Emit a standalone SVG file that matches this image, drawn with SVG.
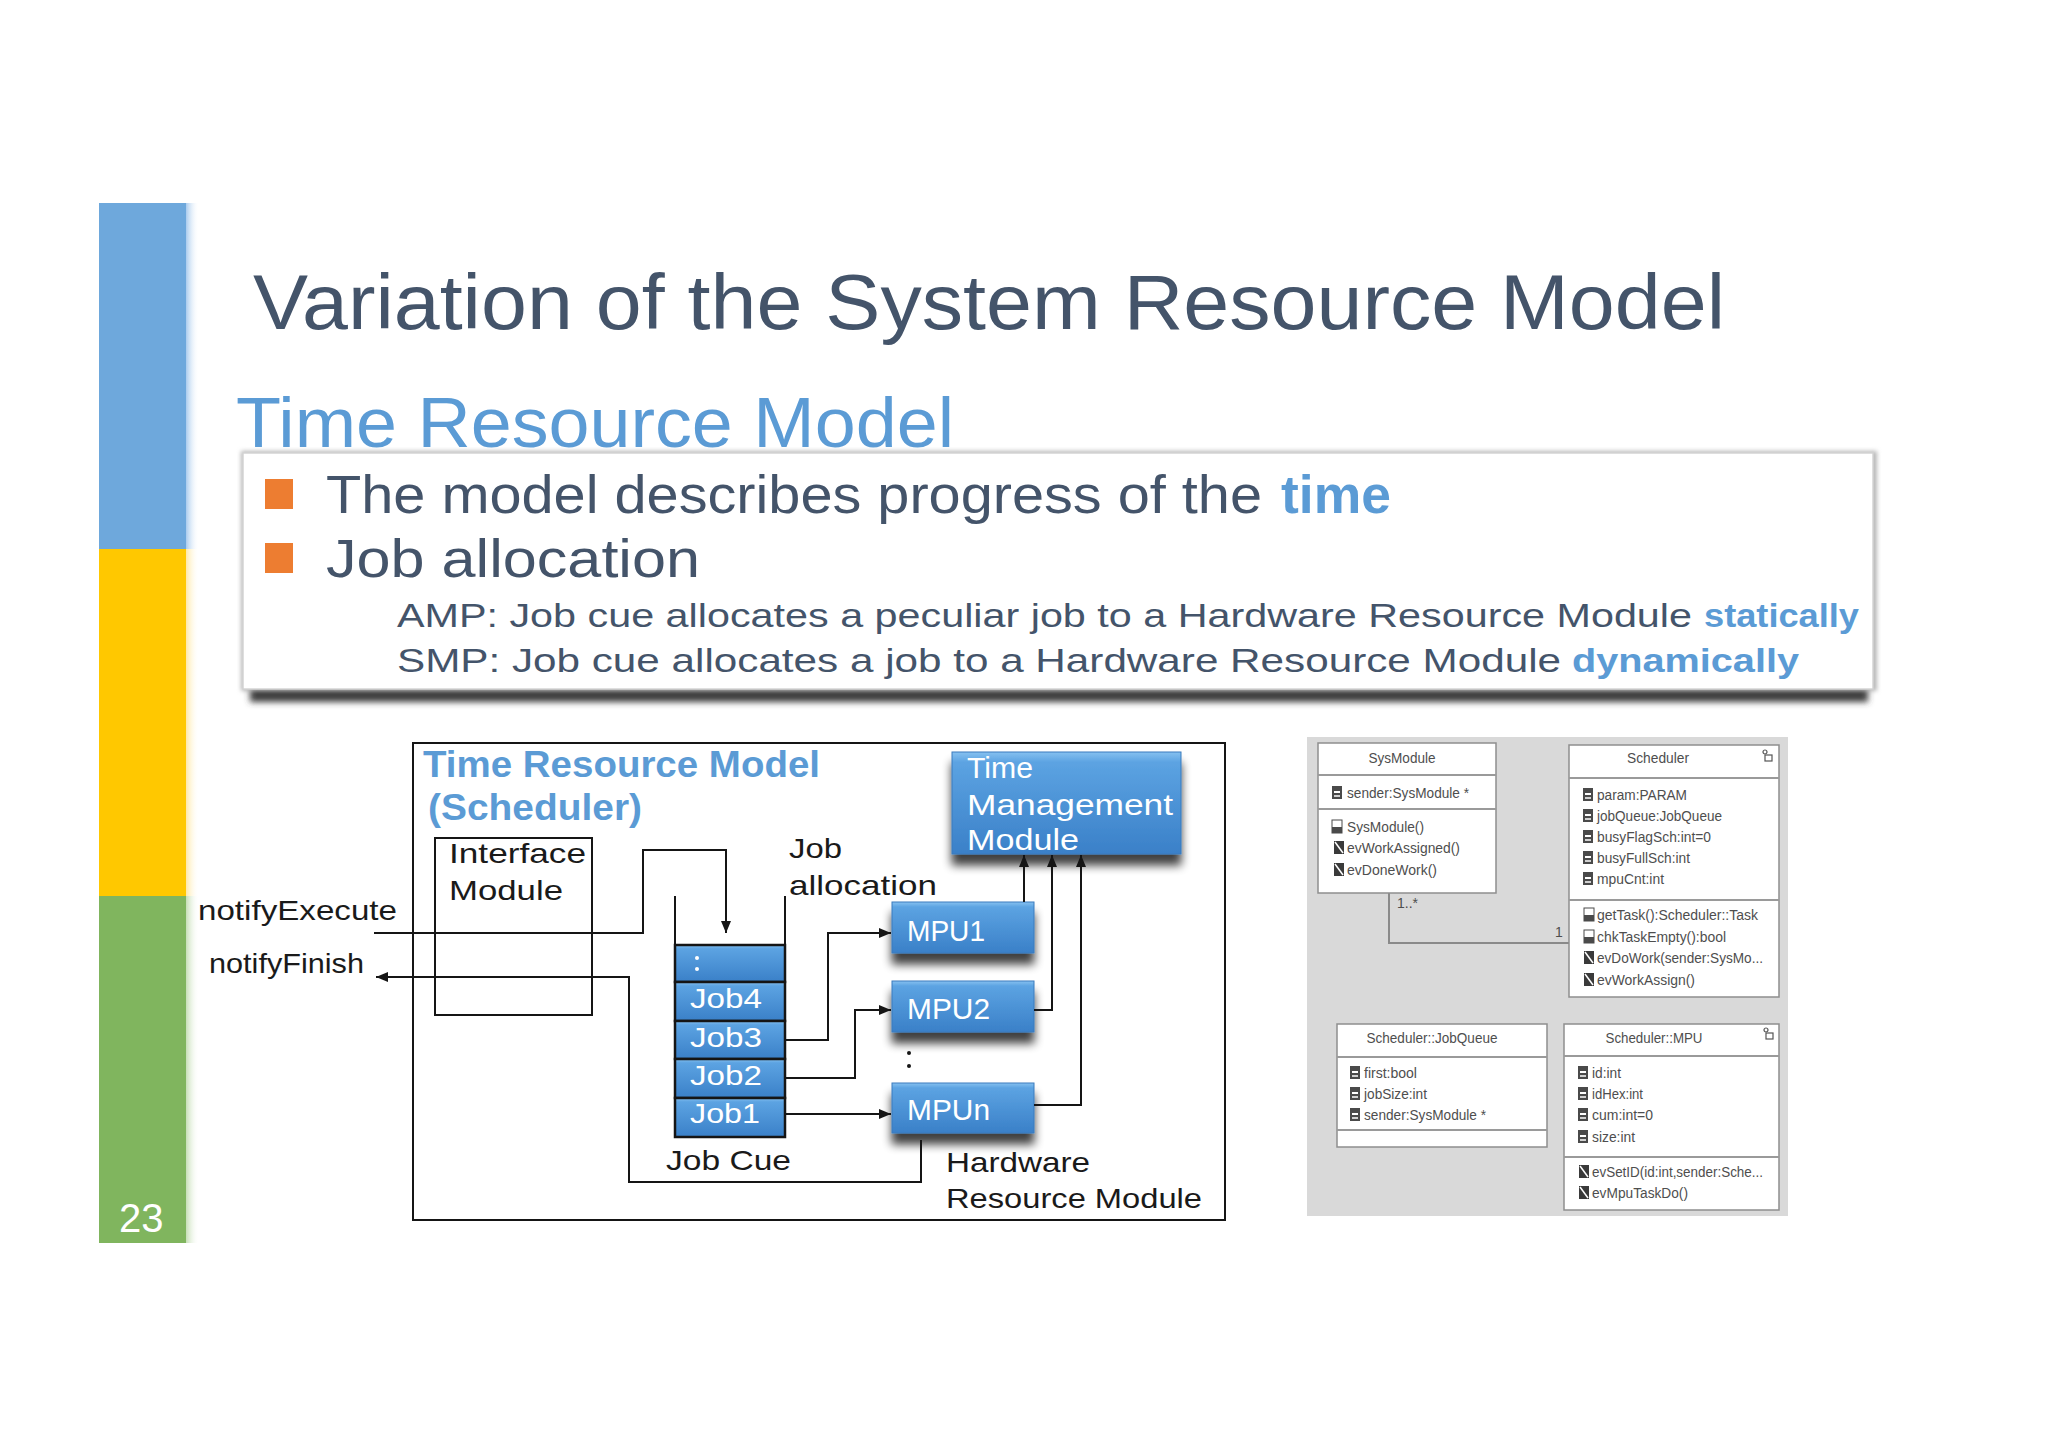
<svg xmlns="http://www.w3.org/2000/svg" width="2048" height="1447" viewBox="0 0 2048 1447">
<style>
  .f { font-family: "Liberation Sans", Arial, sans-serif; }
  .dk { fill: #44546a; }
  .acc { fill: #5b9bd5; font-weight: bold; }
  .blk { fill: #1a1a1a; }
  .wt { fill: #ffffff; }
  .ln { fill: none; stroke: #151515; stroke-width: 2; }
  .uml { fill: #4e4e4e; font-size: 14px; }
  .umlbox { fill: #ffffff; stroke: #8e8e8e; stroke-width: 1.5; }
  .sep { stroke: #9a9a9a; stroke-width: 2; }
</style>
<defs>
  <linearGradient id="blueG" x1="0" y1="0" x2="0" y2="1">
    <stop offset="0" stop-color="#86c1f0"/>
    <stop offset="0.1" stop-color="#5ca3e2"/>
    <stop offset="1" stop-color="#3a80c8"/>
  </linearGradient>
  <linearGradient id="fringeB" x1="0" y1="0" x2="1" y2="0">
    <stop offset="0" stop-color="#a9cbee"/><stop offset="1" stop-color="#ffffff" stop-opacity="0"/>
  </linearGradient>
  <linearGradient id="fringeY" x1="0" y1="0" x2="1" y2="0">
    <stop offset="0" stop-color="#ffe9a6"/><stop offset="1" stop-color="#ffffff" stop-opacity="0"/>
  </linearGradient>
  <linearGradient id="fringeG" x1="0" y1="0" x2="1" y2="0">
    <stop offset="0" stop-color="#c6dfb6"/><stop offset="1" stop-color="#ffffff" stop-opacity="0"/>
  </linearGradient>
  <filter id="boxShadow" x="-20%" y="-30%" width="140%" height="190%">
    <feGaussianBlur in="SourceAlpha" stdDeviation="5"/>
    <feOffset dy="11" result="b"/>
    <feComponentTransfer><feFuncA type="linear" slope="0.75"/></feComponentTransfer>
    <feMerge><feMergeNode/><feMergeNode in="SourceGraphic"/></feMerge>
  </filter>
  <filter id="blur3" x="-5%" y="-100%" width="110%" height="300%">
    <feGaussianBlur stdDeviation="3"/>
  </filter>
  <filter id="blur2" x="-5%" y="-5%" width="110%" height="110%">
    <feGaussianBlur stdDeviation="2"/>
  </filter>
  <marker id="arr" viewBox="0 0 12 10" refX="12" refY="5" markerWidth="12" markerHeight="10" markerUnits="userSpaceOnUse" orient="auto">
    <path d="M0,0 L12,5 L0,10 z" fill="#151515"/>
  </marker>
  <g id="attrIcon">
    <rect x="0" y="-12" width="10" height="13" fill="#4a4a4a"/>
    <rect x="2" y="-7" width="6" height="2" fill="#ffffff"/>
    <rect x="2" y="-3" width="6" height="2" fill="#d0d0d0"/>
  </g>
  <g id="methIcon">
    <rect x="0" y="-12" width="10" height="13" fill="#3a3a3a"/>
    <path d="M1,-11 L9,0" stroke="#ffffff" stroke-width="1.5"/>
  </g>
  <g id="opIcon">
    <rect x="0" y="-12" width="10" height="13" fill="#ffffff" stroke="#4a4a4a" stroke-width="1"/>
    <rect x="0" y="-5" width="10" height="6" fill="#4a4a4a"/>
  </g>
  <g id="cornerIcon">
    <circle cx="4" cy="2" r="2" fill="none" stroke="#555" stroke-width="1.2"/>
    <rect x="4" y="5" width="7" height="6" fill="none" stroke="#555" stroke-width="1.2"/>
  </g>
</defs>

<rect x="0" y="0" width="2048" height="1447" fill="#ffffff"/>

<!-- side bar -->
<g id="sidebar">
  <rect x="99" y="203" width="87" height="346" fill="#6ea8dc"/>
  <rect x="99" y="549" width="87" height="347" fill="#ffc800"/>
  <rect x="99" y="896" width="87" height="347" fill="#80b55e"/>
  <rect x="186" y="203" width="13" height="346" fill="url(#fringeB)"/>
  <rect x="186" y="549" width="13" height="347" fill="url(#fringeY)"/>
  <rect x="186" y="896" width="13" height="347" fill="url(#fringeG)"/>
  <text class="f wt" x="119" y="1232" font-size="40">23</text>
</g>

<!-- titles -->
<g id="title">
  <text class="f dk" x="253" y="329" font-size="78" textLength="1472" lengthAdjust="spacingAndGlyphs">Variation of the System Resource Model</text>
</g>
<g id="subtitle">
  <text class="f" x="236" y="447" font-size="70" fill="#5b9bd5" textLength="718" lengthAdjust="spacingAndGlyphs">Time Resource Model</text>
</g>

<!-- text box -->
<g id="textbox">
  <rect x="250" y="684" width="1618" height="18" fill="#3c3c3c" filter="url(#blur3)"/>
  <rect x="241" y="451" width="1636" height="240" fill="#b8b8b8" filter="url(#blur2)"/>
  <rect x="243" y="453" width="1630" height="236" fill="#ffffff" stroke="#d4d4d4" stroke-width="1.5"/>
  <rect x="265" y="479" width="28" height="30" fill="#ed7d31"/>
  <rect x="265" y="543" width="28" height="30" fill="#ed7d31"/>
  <text class="f dk" x="326" y="513" font-size="54" textLength="936" lengthAdjust="spacingAndGlyphs">The model describes progress of the</text>
  <text class="f acc" x="1281" y="513" font-size="54" textLength="110" lengthAdjust="spacingAndGlyphs">time</text>
  <text class="f dk" x="326" y="577" font-size="54" textLength="374" lengthAdjust="spacingAndGlyphs">Job allocation</text>
  <text class="f dk" x="397" y="627" font-size="34" textLength="1295" lengthAdjust="spacingAndGlyphs">AMP: Job cue allocates a peculiar job to a Hardware Resource Module</text>
  <text class="f acc" x="1704" y="627" font-size="34" textLength="155" lengthAdjust="spacingAndGlyphs">statically</text>
  <text class="f dk" x="397" y="672" font-size="34" textLength="1164" lengthAdjust="spacingAndGlyphs">SMP: Job cue allocates a job to a Hardware Resource Module</text>
  <text class="f acc" x="1572" y="672" font-size="34" textLength="227" lengthAdjust="spacingAndGlyphs">dynamically</text>
</g>

<!-- scheduler diagram -->
<g id="frame">
  <rect x="413" y="743" width="812" height="477" fill="#ffffff" stroke="#151515" stroke-width="2"/>
  <text class="f acc" x="423" y="777" font-size="36" textLength="397" lengthAdjust="spacingAndGlyphs">Time Resource Model</text>
  <text class="f acc" x="428" y="820" font-size="36" textLength="214" lengthAdjust="spacingAndGlyphs">(Scheduler)</text>
</g>

<g id="interface-module">
  <rect x="435" y="838" width="157" height="177" fill="none" stroke="#151515" stroke-width="2"/>
  <text class="f blk" x="449" y="863" font-size="28" textLength="137" lengthAdjust="spacingAndGlyphs">Interface</text>
  <text class="f blk" x="449" y="900" font-size="28" textLength="114" lengthAdjust="spacingAndGlyphs">Module</text>
</g>

<g id="labels">
  <text class="f blk" x="198" y="920" font-size="28" textLength="199" lengthAdjust="spacingAndGlyphs">notifyExecute</text>
  <text class="f blk" x="209" y="973" font-size="28" textLength="155" lengthAdjust="spacingAndGlyphs">notifyFinish</text>
  <text class="f blk" x="789" y="858" font-size="28" textLength="53" lengthAdjust="spacingAndGlyphs">Job</text>
  <text class="f blk" x="789" y="895" font-size="28" textLength="148" lengthAdjust="spacingAndGlyphs">allocation</text>
  <text class="f blk" x="666" y="1170" font-size="28" textLength="125" lengthAdjust="spacingAndGlyphs">Job Cue</text>
  <text class="f blk" x="946" y="1172" font-size="28" textLength="144" lengthAdjust="spacingAndGlyphs">Hardware</text>
  <text class="f blk" x="946" y="1208" font-size="28" textLength="256" lengthAdjust="spacingAndGlyphs">Resource Module</text>
</g>

<g id="job-cue">
  <rect x="675" y="945" width="110" height="37" fill="url(#blueG)" stroke="#151515" stroke-width="2.5"/>
  <rect x="675" y="982" width="110" height="39" fill="url(#blueG)" stroke="#151515" stroke-width="2.5"/>
  <rect x="675" y="1021" width="110" height="38" fill="url(#blueG)" stroke="#151515" stroke-width="2.5"/>
  <rect x="675" y="1059" width="110" height="39" fill="url(#blueG)" stroke="#151515" stroke-width="2.5"/>
  <rect x="675" y="1098" width="110" height="39" fill="url(#blueG)" stroke="#151515" stroke-width="2.5"/>
  <circle cx="697" cy="958" r="2" fill="#ffffff"/>
  <circle cx="697" cy="969" r="2" fill="#ffffff"/>
  <text class="f wt" x="690" y="1008" font-size="28" textLength="72" lengthAdjust="spacingAndGlyphs">Job4</text>
  <text class="f wt" x="690" y="1047" font-size="28" textLength="72" lengthAdjust="spacingAndGlyphs">Job3</text>
  <text class="f wt" x="690" y="1085" font-size="28" textLength="72" lengthAdjust="spacingAndGlyphs">Job2</text>
  <text class="f wt" x="690" y="1123" font-size="28" textLength="70" lengthAdjust="spacingAndGlyphs">Job1</text>
</g>

<g id="tmm">
  <rect x="952" y="752" width="229" height="102" fill="url(#blueG)" stroke="#3b7bbd" stroke-width="1" filter="url(#boxShadow)"/>
  <text class="f wt" x="967" y="778" font-size="30" textLength="66" lengthAdjust="spacingAndGlyphs">Time</text>
  <text class="f wt" x="967" y="815" font-size="30" textLength="206" lengthAdjust="spacingAndGlyphs">Management</text>
  <text class="f wt" x="967" y="850" font-size="30" textLength="112" lengthAdjust="spacingAndGlyphs">Module</text>
</g>

<g id="mpu1">
  <rect x="892" y="902" width="142" height="51" fill="url(#blueG)" stroke="#3b7bbd" stroke-width="1" filter="url(#boxShadow)"/>
  <text class="f wt" x="907" y="941" font-size="29" textLength="78" lengthAdjust="spacingAndGlyphs">MPU1</text>
</g>
<g id="mpu2">
  <rect x="892" y="981" width="142" height="51" fill="url(#blueG)" stroke="#3b7bbd" stroke-width="1" filter="url(#boxShadow)"/>
  <text class="f wt" x="907" y="1019" font-size="29" textLength="83" lengthAdjust="spacingAndGlyphs">MPU2</text>
</g>
<g id="mpun">
  <rect x="892" y="1083" width="142" height="50" fill="url(#blueG)" stroke="#3b7bbd" stroke-width="1" filter="url(#boxShadow)"/>
  <text class="f wt" x="907" y="1120" font-size="29" textLength="83" lengthAdjust="spacingAndGlyphs">MPUn</text>
</g>
<g id="mpu-dots">
  <circle cx="909" cy="1053" r="2" fill="#151515"/>
  <circle cx="909" cy="1066" r="2" fill="#151515"/>
</g>

<g id="connectors">
  <polyline class="ln" points="374,933 643,933 643,850 726,850 726,933" marker-end="url(#arr)"/>
  <polyline class="ln" points="921,1140 921,1182 629,1182 629,977 376,977" marker-end="url(#arr)"/>
  <line class="ln" x1="675" y1="896" x2="675" y2="945"/>
  <line class="ln" x1="785" y1="896" x2="785" y2="945"/>
  <polyline class="ln" points="785,1040 828,1040 828,933 891,933" marker-end="url(#arr)"/>
  <polyline class="ln" points="785,1078 855,1078 855,1010 891,1010" marker-end="url(#arr)"/>
  <polyline class="ln" points="785,1114 891,1114" marker-end="url(#arr)"/>
  <polyline class="ln" points="1024,902 1024,855" marker-end="url(#arr)"/>
  <polyline class="ln" points="1034,1010 1052,1010 1052,855" marker-end="url(#arr)"/>
  <polyline class="ln" points="1034,1105 1081,1105 1081,855" marker-end="url(#arr)"/>
</g>

<!-- UML class diagram -->
<g id="uml-bg">
  <rect x="1307" y="737" width="481" height="479" fill="#d9d9d9"/>
</g>
<g id="uml-assoc">
  <polyline points="1389,893 1389,943 1569,943" fill="none" stroke="#8a8a8a" stroke-width="2"/>
  <text class="f uml" x="1397" y="908" font-size="12">1..*</text>
  <text class="f uml" x="1555" y="937" font-size="12">1</text>
</g>
<g id="uml-sysmodule">
  <rect class="umlbox" x="1318" y="743" width="178" height="150"/>
  <line class="sep" x1="1318" y1="775" x2="1496" y2="775"/>
  <line class="sep" x1="1318" y1="809" x2="1496" y2="809"/>
  <text class="f uml" x="1402" y="763" text-anchor="middle" textLength="67" lengthAdjust="spacingAndGlyphs">SysModule</text>
  <use href="#attrIcon" x="1332" y="798"/>
  <text class="f uml" x="1347" y="798" textLength="122" lengthAdjust="spacingAndGlyphs">sender:SysModule *</text>
  <use href="#opIcon" x="1332" y="832"/>
  <text class="f uml" x="1347" y="832" textLength="77" lengthAdjust="spacingAndGlyphs">SysModule()</text>
  <use href="#methIcon" x="1334" y="853"/>
  <text class="f uml" x="1347" y="853" textLength="113" lengthAdjust="spacingAndGlyphs">evWorkAssigned()</text>
  <use href="#methIcon" x="1334" y="875"/>
  <text class="f uml" x="1347" y="875" textLength="90" lengthAdjust="spacingAndGlyphs">evDoneWork()</text>
</g>
<g id="uml-scheduler">
  <rect class="umlbox" x="1569" y="745" width="210" height="252"/>
  <line class="sep" x1="1569" y1="778" x2="1779" y2="778"/>
  <line class="sep" x1="1569" y1="900" x2="1779" y2="900"/>
  <text class="f uml" x="1658" y="763" text-anchor="middle" textLength="62" lengthAdjust="spacingAndGlyphs">Scheduler</text>
  <use href="#cornerIcon" x="1761" y="750"/>
  <use href="#attrIcon" x="1583" y="800"/>
  <text class="f uml" x="1597" y="800" textLength="90" lengthAdjust="spacingAndGlyphs">param:PARAM</text>
  <use href="#attrIcon" x="1583" y="821"/>
  <text class="f uml" x="1597" y="821" textLength="125" lengthAdjust="spacingAndGlyphs">jobQueue:JobQueue</text>
  <use href="#attrIcon" x="1583" y="842"/>
  <text class="f uml" x="1597" y="842" textLength="114" lengthAdjust="spacingAndGlyphs">busyFlagSch:int=0</text>
  <use href="#attrIcon" x="1583" y="863"/>
  <text class="f uml" x="1597" y="863" textLength="93" lengthAdjust="spacingAndGlyphs">busyFullSch:int</text>
  <use href="#attrIcon" x="1583" y="884"/>
  <text class="f uml" x="1597" y="884" textLength="67" lengthAdjust="spacingAndGlyphs">mpuCnt:int</text>
  <use href="#opIcon" x="1584" y="920"/>
  <text class="f uml" x="1597" y="920" textLength="161" lengthAdjust="spacingAndGlyphs">getTask():Scheduler::Task</text>
  <use href="#opIcon" x="1584" y="942"/>
  <text class="f uml" x="1597" y="942" textLength="129" lengthAdjust="spacingAndGlyphs">chkTaskEmpty():bool</text>
  <use href="#methIcon" x="1584" y="963"/>
  <text class="f uml" x="1597" y="963" textLength="166" lengthAdjust="spacingAndGlyphs">evDoWork(sender:SysMo...</text>
  <use href="#methIcon" x="1584" y="985"/>
  <text class="f uml" x="1597" y="985" textLength="98" lengthAdjust="spacingAndGlyphs">evWorkAssign()</text>
</g>
<g id="uml-jobqueue">
  <rect class="umlbox" x="1337" y="1024" width="210" height="123"/>
  <line class="sep" x1="1337" y1="1057" x2="1547" y2="1057"/>
  <line class="sep" x1="1337" y1="1130" x2="1547" y2="1130"/>
  <text class="f uml" x="1432" y="1043" text-anchor="middle" textLength="131" lengthAdjust="spacingAndGlyphs">Scheduler::JobQueue</text>
  <use href="#attrIcon" x="1350" y="1078"/>
  <text class="f uml" x="1364" y="1078" textLength="53" lengthAdjust="spacingAndGlyphs">first:bool</text>
  <use href="#attrIcon" x="1350" y="1099"/>
  <text class="f uml" x="1364" y="1099" textLength="63" lengthAdjust="spacingAndGlyphs">jobSize:int</text>
  <use href="#attrIcon" x="1350" y="1120"/>
  <text class="f uml" x="1364" y="1120" textLength="122" lengthAdjust="spacingAndGlyphs">sender:SysModule *</text>
</g>
<g id="uml-mpu">
  <rect class="umlbox" x="1564" y="1024" width="215" height="186"/>
  <line class="sep" x1="1564" y1="1056" x2="1779" y2="1056"/>
  <line class="sep" x1="1564" y1="1157" x2="1779" y2="1157"/>
  <text class="f uml" x="1654" y="1043" text-anchor="middle" textLength="97" lengthAdjust="spacingAndGlyphs">Scheduler::MPU</text>
  <use href="#cornerIcon" x="1762" y="1028"/>
  <use href="#attrIcon" x="1578" y="1078"/>
  <text class="f uml" x="1592" y="1078" textLength="29" lengthAdjust="spacingAndGlyphs">id:int</text>
  <use href="#attrIcon" x="1578" y="1099"/>
  <text class="f uml" x="1592" y="1099" textLength="51" lengthAdjust="spacingAndGlyphs">idHex:int</text>
  <use href="#attrIcon" x="1578" y="1120"/>
  <text class="f uml" x="1592" y="1120" textLength="61" lengthAdjust="spacingAndGlyphs">cum:int=0</text>
  <use href="#attrIcon" x="1578" y="1142"/>
  <text class="f uml" x="1592" y="1142" textLength="43" lengthAdjust="spacingAndGlyphs">size:int</text>
  <use href="#methIcon" x="1579" y="1177"/>
  <text class="f uml" x="1592" y="1177" textLength="171" lengthAdjust="spacingAndGlyphs">evSetID(id:int,sender:Sche...</text>
  <use href="#methIcon" x="1579" y="1198"/>
  <text class="f uml" x="1592" y="1198" textLength="96" lengthAdjust="spacingAndGlyphs">evMpuTaskDo()</text>
</g>
</svg>
